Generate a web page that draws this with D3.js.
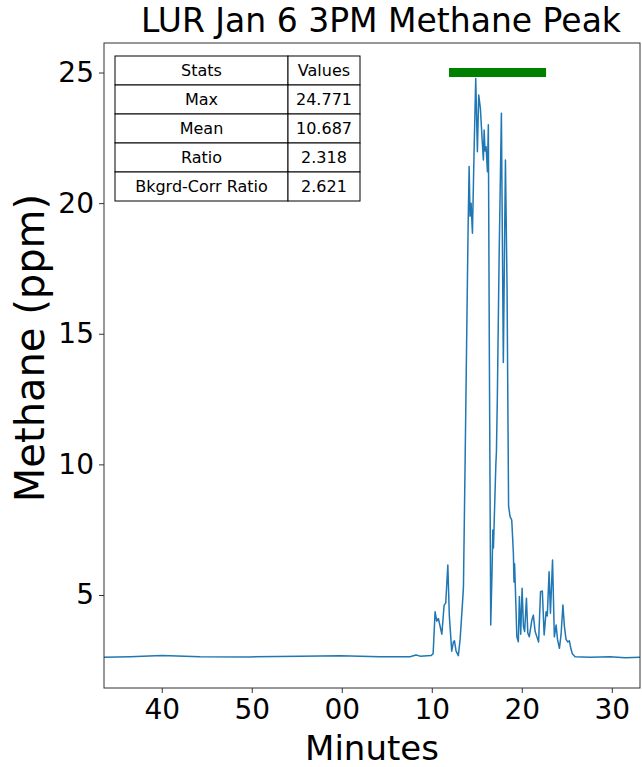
<!DOCTYPE html>
<html lang="en">
<head>
    <meta charset="UTF-8">
    <title>LUR Jan 6 3PM Methane Peak</title>
    <script src="https://d3js.org/d3.v7.min.js"></script>
    <style>
        body { margin: 0; background: #fff; }
        svg { font-family: 'DejaVu Sans', sans-serif; }
        .title { font-size: 33px; text-anchor: middle; }
        .axis-label { font-size: 34px; text-anchor: middle; }
        .tick text { font-size: 28px; font-family: 'DejaVu Sans', sans-serif; fill: #000; }
        .cell text { font-size: 16px; text-anchor: middle; }
    </style>
</head>
<body>
<div id="chart"></div>
<script>
    // clock times (Jan 6) and methane readings
    const times = [
        "14:33:35", "14:36:29", "14:40:02", "14:44:15", "14:49:49", "14:55:22", "14:59:49",
        "15:04:15", "15:07:35", "15:08:15", "15:08:42", "15:09:55", "15:10:09", "15:10:22",
        "15:10:33", "15:10:44", "15:11:07", "15:11:22", "15:11:33", "15:11:47", "15:11:57",
        "15:12:13", "15:12:24", "15:12:31", "15:12:42", "15:12:57", "15:13:09", "15:13:27",
        "15:13:31", "15:13:42", "15:13:53", "15:14:02", "15:14:09", "15:14:15", "15:14:22",
        "15:14:31", "15:14:42", "15:14:53", "15:15:04", "15:15:13", "15:15:24", "15:15:35",
        "15:15:44", "15:15:49", "15:15:55", "15:16:02", "15:16:11", "15:16:17", "15:16:24",
        "15:16:33", "15:16:42", "15:16:47", "15:16:51", "15:17:07", "15:17:11", "15:17:17",
        "15:17:29", "15:17:44", "15:17:57", "15:18:11", "15:18:22", "15:18:24", "15:18:32",
        "15:18:42", "15:18:53", "15:19:04", "15:19:08", "15:19:12", "15:19:17", "15:19:27",
        "15:19:37", "15:19:44", "15:19:53", "15:20:02", "15:20:11", "15:20:19", "15:20:31",
        "15:20:40", "15:20:50", "15:21:07", "15:21:17", "15:21:29", "15:21:44", "15:21:52",
        "15:22:05", "15:22:17", "15:22:29", "15:22:42", "15:22:50", "15:23:02", "15:23:11",
        "15:23:25", "15:23:37", "15:23:49", "15:23:58", "15:24:11", "15:24:22", "15:24:34",
        "15:24:44", "15:24:55", "15:25:07", "15:25:17", "15:25:27", "15:25:37", "15:25:55",
        "15:27:35", "15:29:49", "15:31:29", "15:33:08"
    ];
    const methane = [
        2.62, 2.64, 2.68, 2.64, 2.63, 2.66, 2.67,
        2.64, 2.64, 2.70, 2.66, 2.68, 2.75, 4.36,
        4.00, 4.10, 3.50, 4.60, 4.70, 6.15, 4.20,
        2.85, 3.20, 3.25, 2.85, 2.68, 3.30, 4.90,
        5.30, 10.0, 15.0, 19.0, 21.4, 19.5, 20.0,
        18.85, 22.0, 24.771, 21.97, 24.14, 23.63, 22.5,
        21.65, 22.8, 22.0, 22.16, 21.2, 23.0, 14.0,
        3.85, 6.0, 7.49, 6.8, 9.98, 10.5, 12.53,
        18.0, 23.44, 13.9, 21.65, 16.67, 14.89, 8.4,
        8.0, 7.87, 6.6, 5.5, 6.2, 5.3, 3.4,
        3.21, 4.94, 3.5, 5.26, 3.79, 3.6, 4.88,
        3.55, 3.4, 4.04, 4.23, 3.6, 3.34, 3.2,
        5.13, 5.15, 3.47, 4.36, 4.2, 5.89, 4.3,
        6.34, 3.4, 3.85, 3.3, 2.96, 3.5, 4.62,
        3.8, 3.3, 3.2, 3.25, 2.95, 2.75, 2.64,
        2.62, 2.64, 2.60, 2.62
    ];
    const peakWindow = ["15:11:55", "15:22:42"];
    const peakBarLevel = 25;

    const statLabels = ["Stats", "Max", "Mean", "Ratio", "Bkgrd-Corr Ratio"];
    const statValues = ["Values", "24.771", "10.687", "2.318", "2.621"];

    const yTicks = [5, 10, 15, 20, 25];

    const W = 642, H = 767;
    const margin = { top: 43, right: 2, bottom: 79, left: 104 };
    const width = W - margin.left - margin.right,
          height = H - margin.top - margin.bottom;

    const parseTime = d3.timeParse("%Y-%m-%d %H:%M:%S");
    const toDate = t => parseTime("2023-01-06 " + t);

    const data = times.map((t, i) => ({ time: toDate(t), value: methane[i] }));

    const svg = d3.select("#chart").append("svg")
        .attr("width", W)
        .attr("height", H);

    const g = svg.append("g")
        .attr("transform", `translate(${margin.left},${margin.top})`);

    const x = d3.scaleTime()
        .domain(d3.extent(data, d => d.time))
        .range([0, width]);

    const y = d3.scaleLinear()
        .domain([1.44, 26.13])
        .range([height, 0]);

    // line
    const line = d3.line()
        .x(d => x(d.time))
        .y(d => y(d.value));

    g.append("path")
        .datum(data)
        .attr("fill", "none")
        .attr("stroke", "#1f77b4")
        .attr("stroke-width", 1.5)
        .attr("stroke-linejoin", "round")
        .attr("d", line);

    // peak window bar
    g.append("line")
        .attr("x1", x(toDate(peakWindow[0])))
        .attr("x2", x(toDate(peakWindow[1])))
        .attr("y1", y(peakBarLevel))
        .attr("y2", y(peakBarLevel))
        .attr("stroke", "green")
        .attr("stroke-width", 9);

    // axes
    const xAxis = d3.axisBottom(x)
        .ticks(d3.timeMinute.every(10))
        .tickFormat(d3.timeFormat("%M"))
        .tickSize(5)
        .tickPadding(6);

    const xg = g.append("g")
        .attr("transform", `translate(0,${height})`)
        .call(xAxis);

    const yAxis = d3.axisLeft(y)
        .tickValues(yTicks)
        .tickSize(5)
        .tickPadding(5);

    const yg = g.append("g").call(yAxis);

    [xg, yg].forEach(a => {
        a.select(".domain").remove();
        a.selectAll(".tick line").attr("stroke", "#333");
    });

    // frame
    g.append("rect")
        .attr("width", width)
        .attr("height", height)
        .attr("fill", "none")
        .attr("stroke", "#333")
        .attr("stroke-width", 1);

    // stats table
    const tbl = g.append("g").attr("transform", "translate(11,13)");
    const col1 = 173, col2 = 72, rowH = 29;
    statLabels.forEach((lab, i) => {
        const row = tbl.append("g").attr("class", "cell")
            .attr("transform", `translate(0,${i * rowH})`);
        row.append("rect").attr("width", col1).attr("height", rowH)
            .attr("fill", "#fff").attr("stroke", "#000");
        row.append("rect").attr("x", col1).attr("width", col2).attr("height", rowH)
            .attr("fill", "#fff").attr("stroke", "#000");
        row.append("text").attr("x", col1 / 2).attr("y", rowH / 2).attr("dy", "0.36em").text(lab);
        row.append("text").attr("x", col1 + col2 / 2).attr("y", rowH / 2).attr("dy", "0.36em").text(statValues[i]);
    });

    // titles
    svg.append("text")
        .attr("class", "title")
        .attr("x", 381)
        .attr("y", 32)
        .text("LUR Jan 6 3PM Methane Peak");

    svg.append("text")
        .attr("class", "axis-label")
        .attr("x", margin.left + width / 2)
        .attr("y", 760)
        .text("Minutes");

    svg.append("text")
        .attr("class", "axis-label")
        .style("font-size", "40px")
        .attr("transform", `translate(44,348) rotate(-90)`)
        .text("Methane (ppm)");
</script>
</body>
</html>
